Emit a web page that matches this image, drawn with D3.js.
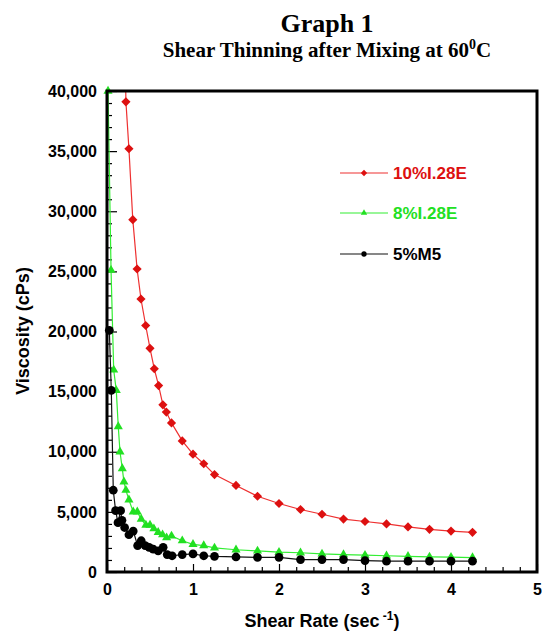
<!DOCTYPE html>
<html>
<head>
<meta charset="utf-8">
<script src="https://cdn.jsdelivr.net/npm/d3@7"></script>
<style>
	body { margin: 0; background: #fff; }
	svg { display: block; }
</style>
</head>
<body>
<div id="chart"></div>
<script>
// data
const xTicks = [0, 1, 2, 3, 4, 5];
const yTicks = [0, 5000, 10000, 15000, 20000, 25000, 30000, 35000, 40000];

const rate10 = [0.205, 0.22, 0.255, 0.30, 0.35, 0.395, 0.45, 0.50, 0.55, 0.60, 0.65, 0.69, 0.75, 0.875, 1.0, 1.125, 1.25, 1.5, 1.75, 2.0, 2.25, 2.5, 2.75, 3.0, 3.25, 3.5, 3.75, 4.0, 4.25];
const visc10 = [46000, 39100, 35200, 29300, 25200, 22700, 20500, 18600, 16900, 15500, 13900, 13300, 12400, 10900, 9800, 9000, 8100, 7200, 6300, 5700, 5200, 4800, 4400, 4200, 4000, 3750, 3550, 3400, 3300];

const rate8 = [0.012, 0.047, 0.078, 0.108, 0.131, 0.151, 0.178, 0.197, 0.22, 0.255, 0.305, 0.352, 0.398, 0.452, 0.50, 0.545, 0.595, 0.646, 0.693, 0.75, 0.875, 1.0, 1.125, 1.25, 1.5, 1.75, 2.0, 2.25, 2.5, 2.75, 3.0, 3.25, 3.5, 3.75, 4.0, 4.25];
const visc8 = [40000, 25100, 16800, 15100, 12100, 10000, 8600, 7500, 6800, 6000, 5000, 5000, 4400, 3900, 3900, 3600, 3300, 3100, 2850, 3000, 2600, 2300, 2200, 2000, 1850, 1750, 1650, 1600, 1500, 1450, 1400, 1350, 1300, 1250, 1230, 1200];

const rate5 = [0.027, 0.05, 0.073, 0.10, 0.128, 0.158, 0.174, 0.205, 0.255, 0.305, 0.356, 0.398, 0.444, 0.49, 0.537, 0.595, 0.653, 0.70, 0.757, 0.875, 1.0, 1.125, 1.25, 1.5, 1.75, 2.0, 2.25, 2.5, 2.75, 3.0, 3.25, 3.5, 3.75, 4.0, 4.25];
const visc5 = [20100, 15100, 6800, 5100, 4100, 5100, 4300, 3700, 3100, 3400, 2200, 2600, 2200, 2050, 1900, 1750, 2050, 1450, 1350, 1450, 1500, 1350, 1300, 1250, 1220, 1220, 1030, 1030, 1030, 950, 900, 900, 900, 900, 900];

const seriesNames = ["10%I.28E", "8%I.28E", "5%M5"];

// MARGIN CONVENTIONS
const margin = { top: 91, right: 5, bottom: 59, left: 107 };
const outerWidth = 542;
const outerHeight = 631;
const width = outerWidth - margin.left - margin.right;
const height = outerHeight - margin.top - margin.bottom;

const svg = d3.select("#chart").append("svg")
	.attr("width", outerWidth)
	.attr("height", outerHeight);

const g = svg.append("g")
	.attr("transform", `translate(${margin.left}, ${margin.top})`);

const x = d3.scaleLinear().domain([0, 5]).range([0, width]);
const y = d3.scaleLinear().domain([0, 40000]).range([height, 0]);

const series = [
	{ name: seriesNames[0], rate: rate10, visc: visc10, line: "#ee3030", fill: "#dd1010", symbol: d3.symbolSquare, size: 42, rotate: 45, lsize: 20 },
	{ name: seriesNames[1], rate: rate8, visc: visc8, line: "#33ee33", fill: "#22e022", symbol: d3.symbolTriangle, size: 36, rotate: 0, lsize: 18 },
	{ name: seriesNames[2], rate: rate5, visc: visc5, line: "#111", fill: "#000", symbol: d3.symbolCircle, size: 60, rotate: 0, lsize: 22 }
];

// titles
svg.append("text")
	.attr("x", 327).attr("y", 32)
	.attr("text-anchor", "middle")
	.style("font-family", "'Liberation Serif', 'Times New Roman', serif")
	.style("font-weight", "bold")
	.style("font-size", "26px")
	.text("Graph 1");

const sub = svg.append("text")
	.attr("x", 327).attr("y", 57)
	.attr("text-anchor", "middle")
	.style("font-family", "'Liberation Serif', 'Times New Roman', serif")
	.style("font-weight", "bold")
	.style("font-size", "21px");
sub.append("tspan").text("Shear Thinning after Mixing at 60");
sub.append("tspan").attr("dy", -8).style("font-size", "14px").text("0");
sub.append("tspan").attr("dy", 8).text("C");

// clip for the lines
svg.append("defs").append("clipPath").attr("id", "plotClip")
	.append("rect").attr("width", width).attr("height", height);

// axes
const font = "'Liberation Sans', Arial, sans-serif";

g.append("g")
	.call(d3.axisLeft(y).tickValues(yTicks).tickSize(-10).tickPadding(10).tickFormat(d3.format(",")));
g.append("g")
	.call(d3.axisLeft(y).tickValues(d3.range(1000, 40000, 1000).filter(v => v % 5000 !== 0)).tickSize(-5).tickFormat(""));

g.append("g")
	.attr("transform", `translate(0, ${height})`)
	.call(d3.axisBottom(x).tickValues(xTicks).tickSize(-8).tickPadding(12).tickFormat(d3.format("d")));
g.append("g")
	.attr("transform", `translate(0, ${height})`)
	.call(d3.axisBottom(x).tickValues(d3.range(0.2, 5, 0.2).filter(v => Math.abs(v - Math.round(v)) > 0.01)).tickSize(-5).tickFormat(""));

g.selectAll(".domain").remove();
g.selectAll(".tick line").attr("stroke", "#000").attr("stroke-width", 1.2);
g.selectAll(".tick text")
	.style("font-family", font)
	.style("font-weight", "bold")
	.style("font-size", "16px")
	.attr("fill", "#000");

// lines + markers
const plot = g.append("g");
series.forEach(s => {
	const pts = s.rate.map((r, i) => ({ r: r, v: s.visc[i] }));
	plot.append("path")
		.datum(pts)
		.attr("clip-path", "url(#plotClip)")
		.attr("fill", "none")
		.attr("stroke", s.line)
		.attr("stroke-width", 1.2)
		.attr("d", d3.line().x(d => x(d.r)).y(d => y(d.v)));
	plot.selectAll(null)
		.data(pts.filter(d => d.v <= 40000))
		.enter()
		.append("path")
		.attr("d", d3.symbol().type(s.symbol).size(s.size))
		.attr("transform", d => `translate(${x(d.r)}, ${y(d.v)}) rotate(${s.rotate})`)
		.attr("fill", s.fill);
});

// frame
g.append("rect")
	.attr("width", width)
	.attr("height", height)
	.attr("fill", "none")
	.attr("stroke", "#000")
	.attr("stroke-width", 3);

// axis labels
const xl = svg.append("text")
	.attr("x", 322).attr("y", 627)
	.attr("text-anchor", "middle")
	.style("font-family", font)
	.style("font-weight", "bold")
	.style("font-size", "18px");
xl.append("tspan").text("Shear Rate (sec");
xl.append("tspan").attr("dy", -7).style("font-size", "12px").text(" -1");
xl.append("tspan").attr("dy", 7).text(")");

svg.append("text")
	.attr("transform", "rotate(-90)")
	.attr("x", -331).attr("y", 29)
	.attr("text-anchor", "middle")
	.style("font-family", font)
	.style("font-weight", "bold")
	.style("font-size", "18px")
	.text("Viscosity (cPs)");

// legend
const legend = svg.selectAll(".legend")
	.data(series)
	.enter()
	.append("g")
	.attr("class", "legend")
	.attr("transform", (d, i) => `translate(340, ${[173, 213, 254][i]})`);

legend.append("line")
	.attr("x1", 0).attr("x2", 48)
	.attr("stroke", d => d.line)
	.attr("stroke-width", 1.2);

legend.append("path")
	.attr("d", d => d3.symbol().type(d.symbol).size(d.lsize)())
	.attr("transform", d => `translate(24, 0) rotate(${d.rotate})`)
	.attr("fill", d => d.fill);

legend.append("text")
	.attr("x", 53)
	.attr("dy", ".35em")
	.style("font-family", font)
	.style("font-weight", "bold")
	.style("font-size", "17px")
	.attr("fill", d => d.fill)
	.text(d => d.name);
</script>
</body>
</html>
